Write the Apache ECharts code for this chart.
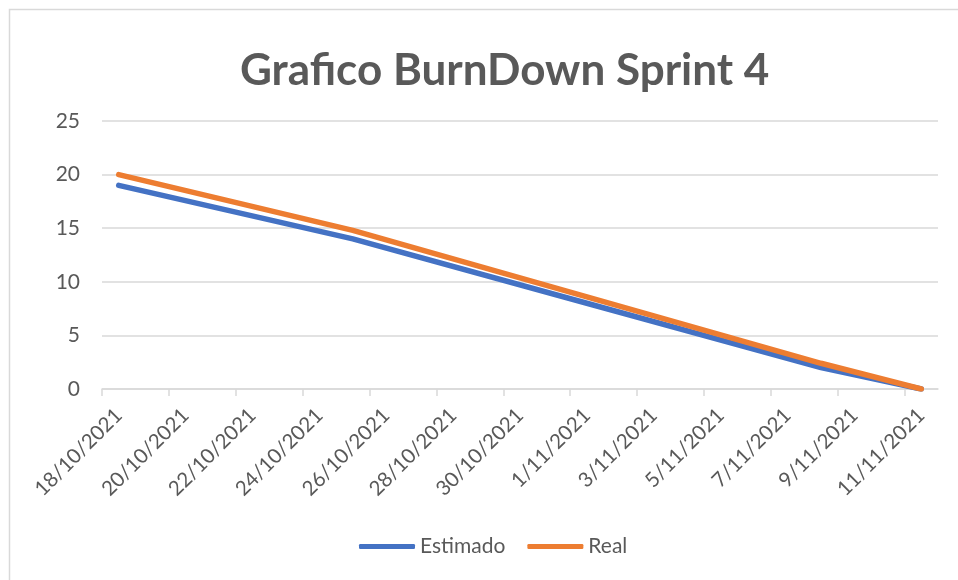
<!DOCTYPE html>
<html>
<head>
<meta charset="utf-8">
<title>Grafico BurnDown Sprint 4</title>
<script src="https://cdn.jsdelivr.net/npm/echarts@6/dist/echarts.min.js"></script>
<style>
  html, body { margin: 0; padding: 0; background: #ffffff; }
  #chart { width: 958px; height: 580px; }
</style>
</head>
<body>
<div id="chart"></div>
<script>
// Sprint start date (day 0 of the axis)
const sprintStart = [2021, 10, 18];

// Dates where values were recorded
const pointDates = ['18/10/2021', '25/10/2021', '1/11/2021', '8/11/2021', '11/11/2021'];
// Remaining work per series
const estimado = [19, 14, 8, 2, 0];
const real = [20, 14.8, 8.6, 2.4, 0];

// Labels shown on the date axis, every two days
const tickLabels = ['18/10/2021', '20/10/2021', '22/10/2021', '24/10/2021', '26/10/2021',
  '28/10/2021', '30/10/2021', '1/11/2021', '3/11/2021', '5/11/2021', '7/11/2021',
  '9/11/2021', '11/11/2021'];
const yTicks = [0, 5, 10, 15, 20, 25];

const DAY = 86400000;
const startMs = Date.UTC(sprintStart[0], sprintStart[1] - 1, sprintStart[2]);
function dayIndex(s) {
  const p = s.split('/').map(Number);
  return Math.round((Date.UTC(p[2], p[1] - 1, p[0]) - startMs) / DAY);
}
// each day occupies one unit; values sit in the middle of their day
const toPoints = vals => pointDates.map((d, i) => [dayIndex(d) + 0.5, vals[i]]);

const tickDays = tickLabels.map(dayIndex);
const labelDays = tickDays.map(d => d + 0.5);
const labelByDay = {};
tickLabels.forEach((t, i) => { labelByDay[labelDays[i]] = t; });

const textColor = '#595959';
const gridColor = '#d9d9d9';
const font = 'Lato, "Open Sans", sans-serif';

const chart = echarts.init(document.getElementById('chart'));
chart.setOption({
  backgroundColor: '#ffffff',
  animation: false,
  graphic: [{
    type: 'rect',
    shape: { x: 9.5, y: 9.5, width: 1200, height: 1200 },
    style: { fill: 'none', stroke: gridColor, lineWidth: 1.5 },
    silent: true
  }],
  title: {
    text: 'Grafico BurnDown Sprint 4',
    left: 235,
    top: 44,
    textStyle: { color: textColor, fontFamily: font, fontWeight: 'bold', fontSize: 44 }
  },
  legend: {
    bottom: 18,
    left: 354,
    itemWidth: 56,
    itemHeight: 5,
    itemGap: 22,
    icon: 'roundRect',
    textStyle: { color: textColor, fontFamily: font, fontSize: 21 },
    data: ['Estimado', 'Real']
  },
  grid: { left: 102, right: 20, top: 121, bottom: 191, containLabel: false },
  xAxis: {
    type: 'value',
    min: 0,
    max: tickDays[tickDays.length - 1] + 1,
    splitLine: { show: false },
    axisLine: { show: true, lineStyle: { color: gridColor, width: 1.5 } },
    axisTick: { show: true, customValues: tickDays, length: 7, lineStyle: { color: gridColor, width: 1.5 } },
    axisLabel: {
      customValues: labelDays,
      rotate: 45,
      margin: 23,
      color: textColor,
      fontFamily: font,
      fontSize: 20.5,
      formatter: v => labelByDay[v] || ''
    }
  },
  yAxis: {
    type: 'value',
    min: yTicks[0],
    max: yTicks[yTicks.length - 1],
    interval: 5,
    axisLine: { show: false },
    axisTick: { show: false },
    splitLine: { lineStyle: { color: gridColor, width: 1.5 } },
    axisLabel: { color: textColor, fontFamily: font, fontSize: 21, margin: 22 }
  },
  series: [
    {
      name: 'Estimado',
      type: 'line',
      data: toPoints(estimado),
      showSymbol: false,
      color: '#4472c4',
      lineStyle: { width: 5.5, cap: 'round', join: 'round' }
    },
    {
      name: 'Real',
      type: 'line',
      data: toPoints(real),
      showSymbol: false,
      color: '#ed7d31',
      lineStyle: { width: 5.5, cap: 'round', join: 'round' }
    }
  ]
});
</script>
</body>
</html>
